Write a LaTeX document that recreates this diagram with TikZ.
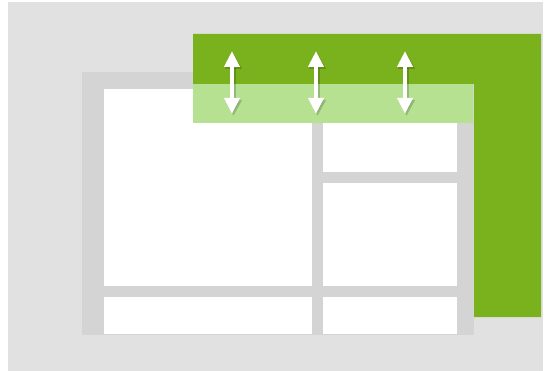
\documentclass[tikz,border=0pt]{standalone}
\usetikzlibrary{arrows.meta}
\definecolor{bggray}{HTML}{E1E1E1}
\definecolor{framegray}{HTML}{D4D4D4}
\definecolor{darkgreen}{HTML}{7AB21D}
\definecolor{lightgreen}{HTML}{B5E190}
\tikzset{
  cell/.style={fill=white},
  dblarrow/.style={draw=white, line width=4.5pt, {Triangle[width=15pt,length=16pt]}-{Triangle[width=15pt,length=16pt]}},
  arrshadow/.style={draw=black, opacity=0.18, line width=5.5pt, {Triangle[width=16pt,length=16pt]}-{Triangle[width=16pt,length=16pt]}}
}
\begin{document}
\begin{tikzpicture}[x=1pt,y=-1pt]
\useasboundingbox (0,0) rectangle (545,371);
\fill[white] (0,0) rectangle (545,371);
\fill[bggray] (8,2) rectangle (543,371);
% layout frame
\fill[framegray] (82,72) rectangle (474,335);
\fill[cell] (104,89) rectangle (312,286);
\fill[cell] (323,89) rectangle (457,172);
\fill[cell] (323,183) rectangle (457,286);
\fill[cell] (104,297) rectangle (312,334);
\fill[cell] (323,297) rectangle (457,334);
% green L-shape
\fill[darkgreen] (193,34) -- (541,34) -- (541,317) -- (474,317) -- (474,84) -- (193,84) -- cycle;
\fill[lightgreen] (193,84) rectangle (473,123);
% arrows
\foreach \x/\n in {232/a,316/b,405/c} {
  \coordinate (\n top) at (\x,51);
  \coordinate (\n bot) at (\x,114);
  \coordinate (\n tops) at (\x+1.5,53);
  \coordinate (\n bots) at (\x+1.5,116);
  \draw[arrshadow] (\n tops) -- (\n bots);
  \draw[dblarrow] (\n top) -- (\n bot);
}
\end{tikzpicture}
\end{document}
